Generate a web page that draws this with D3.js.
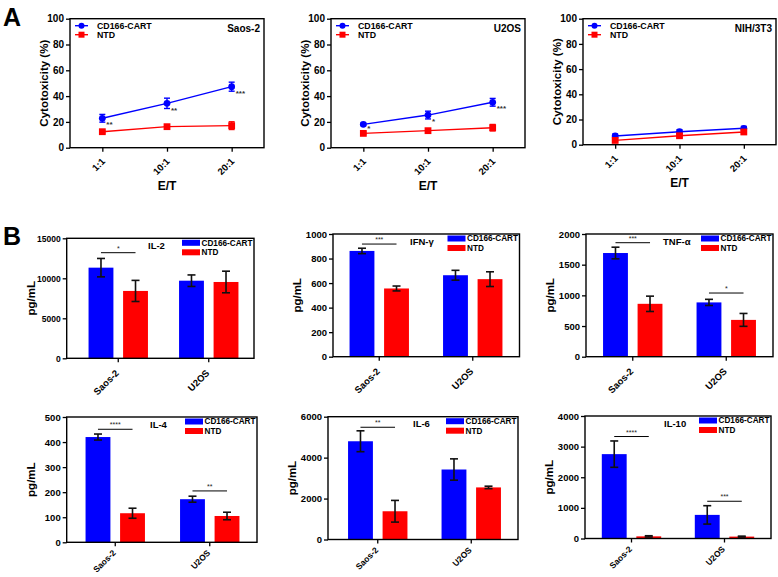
<!DOCTYPE html>
<html>
<head>
<meta charset="utf-8">
<script src="https://cdn.jsdelivr.net/npm/d3@7/dist/d3.min.js"></script>
<style>
  html, body { margin: 0; padding: 0; background: #fff; }
  svg { display: block; font-family: "Liberation Sans", Arial, sans-serif; }
</style>
</head>
<body>
<svg id="chart" width="778" height="577"></svg>
<script>
// ---------------- DATA ----------------
const seriesNames = ["CD166-CART", "NTD"];
const etLabels = ["1:1", "10:1", "20:1"];
const cytoTicks = [0, 20, 40, 60, 80, 100];

// Panel A: cytotoxicity (%)
const saos2Cart = [22.8, 34.4, 47.3];
const saos2CartErr = [3.0, 4.0, 3.5];
const saos2Ntd = [12.4, 16.3, 17.1];
const saos2NtdErr = [1.0, 1.0, 3.0];
const saos2Sig = ["**", "**", "***"];

const u2osCart = [18.1, 25.3, 35.2];
const u2osCartErr = [1.0, 3.0, 3.0];
const u2osNtd = [11.1, 13.2, 15.5];
const u2osNtdErr = [1.0, 1.0, 2.5];
const u2osSig = ["*", "*", "***"];

const nihCart = [6.9, 10.3, 13.0];
const nihCartErr = [1.5, 1.5, 1.5];
const nihNtd = [3.4, 7.1, 10.1];
const nihNtdErr = [1.0, 1.0, 1.5];
const nihSig = ["", "", ""];

// Panel B: cytokines (pg/mL)
const cellLines = ["Saos-2", "U2OS"];

const il2Cart = [11330, 9700];   const il2CartErr = [1150, 720];
const il2Ntd = [8420, 9540];     const il2NtdErr = [1320, 1350];
const il2Ticks = [0, 5000, 10000, 15000];
const il2Sig = [["Saos-2", 13200, "*"]];

const ifnCart = [862, 664];      const ifnCartErr = [22, 40];
const ifnNtd = [556, 632];       const ifnNtdErr = [20, 60];
const ifnTicks = [0, 200, 400, 600, 800, 1000];
const ifnSig = [["Saos-2", 918, "***"]];

const tnfCart = [1690, 885];     const tnfCartErr = [95, 50];
const tnfNtd = [862, 600];       const tnfNtdErr = [125, 105];
const tnfTicks = [0, 500, 1000, 1500, 2000];
const tnfSig = [["Saos-2", 1858, "***"], ["U2OS", 1038, "*"]];

const il4Cart = [420, 172];      const il4CartErr = [12, 12];
const il4Ntd = [116, 105];       const il4NtdErr = [20, 15];
const il4Ticks = [0, 100, 200, 300, 400, 500];
const il4Sig = [["Saos-2", 451, "****"], ["U2OS", 205, "**"]];

const il6Cart = [4800, 3420];    const il6CartErr = [510, 520];
const il6Ntd = [1380, 2545];     const il6NtdErr = [530, 60];
const il6Ticks = [0, 2000, 4000, 6000];
const il6Sig = [["Saos-2", 5484, "**"]];

const il10Cart = [2755, 771];    const il10CartErr = [430, 300];
const il10Ntd = [70, 62];        const il10NtdErr = [20, 15];
const il10Ticks = [0, 1000, 2000, 3000, 4000];
const il10Sig = [["Saos-2", 3330, "****"], ["U2OS", 1216, "***"]];

// ---------------- STYLE / LAYOUT ----------------
const BLUE = "#0000ff", RED = "#ff0000";
const colors = [BLUE, RED];
const svg = d3.select("#chart");
const fmt = d3.format("d");

svg.append("text").attr("x", 3).attr("y", 26).attr("font-size", 25)
  .attr("font-weight", "bold").text("A");
svg.append("text").attr("x", 3).attr("y", 245).attr("font-size", 25)
  .attr("font-weight", "bold").text("B");

function drawFrame(g, x0, x1, yTop, yBot) {
  g.append("rect").attr("x", x0).attr("y", yTop).attr("width", x1 - x0)
    .attr("height", yBot - yTop).attr("fill", "none").attr("stroke", "#000")
    .attr("stroke-width", 1.4);
}

function styleAxis(ax, fs) {
  ax.select(".domain").remove();
  ax.selectAll(".tick line").attr("stroke", "#000").attr("stroke-width", 1.3);
  ax.selectAll(".tick text").attr("font-size", fs).attr("font-weight", "bold")
    .attr("font-family", "Liberation Sans, Arial, sans-serif").attr("fill", "#000");
}

// ---------- Line charts ----------
function lineChart(cfg) {
  const { x0, x1, yTop, yBot, title, cart, cartErr, ntd, ntdErr, sig } = cfg;
  const g = svg.append("g");
  const x = d3.scalePoint().domain(etLabels).range([x0, x1]).padding(0.5);
  const y = d3.scaleLinear().domain([0, 100]).range([yBot, yTop]);

  const yAx = g.append("g").attr("transform", `translate(${x0},0)`)
    .call(d3.axisLeft(y).tickValues(cytoTicks).tickFormat(fmt).tickSize(4).tickPadding(2));
  styleAxis(yAx, 10);

  const xAx = g.append("g").attr("transform", `translate(0,${yBot})`)
    .call(d3.axisBottom(x).tickSize(4).tickFormat(() => ""));
  styleAxis(xAx, 10);
  g.selectAll(null).data(etLabels).join("text")
    .attr("transform", d => `translate(${x(d) + 1},${yBot + 12}) rotate(-45)`)
    .attr("text-anchor", "end").attr("dy", "0.35em")
    .attr("font-size", 9.5).attr("font-weight", "bold").text(d => d);

  drawFrame(g, x0, x1, yTop, yBot);

  g.append("text").attr("x", (x0 + x1) / 2).attr("y", yBot + 42)
    .attr("text-anchor", "middle").attr("font-size", 12).attr("font-weight", "bold").text("E/T");
  g.append("text").attr("transform", `translate(${x0 - 22},${(yTop + yBot) / 2}) rotate(-90)`)
    .attr("text-anchor", "middle").attr("font-size", 11.5).attr("font-weight", "bold")
    .text("Cytotoxicity (%)");
  g.append("text").attr("x", x1 - 4).attr("y", yTop + 13).attr("text-anchor", "end")
    .attr("font-size", 10).attr("font-weight", "bold").text(title);

  const sets = [[cart, cartErr], [ntd, ntdErr]];
  sets.forEach(([vals, errs], si) => {
    const c = colors[si];
    const pts = etLabels.map((d, i) => [x(d), y(vals[i])]);
    g.append("path").attr("d", d3.line()(pts)).attr("fill", "none")
      .attr("stroke", c).attr("stroke-width", 1.4);
    etLabels.forEach((d, i) => {
      const cx = x(d), yh = y(vals[i] + errs[i]), yl = y(vals[i] - errs[i]);
      g.append("line").attr("x1", cx).attr("x2", cx).attr("y1", yh).attr("y2", yl)
        .attr("stroke", c).attr("stroke-width", 1.4);
      [yh, yl].forEach(yy => g.append("line").attr("x1", cx - 3).attr("x2", cx + 3)
        .attr("y1", yy).attr("y2", yy).attr("stroke", c).attr("stroke-width", 1.4));
      if (si === 0) g.append("circle").attr("cx", cx).attr("cy", y(vals[i])).attr("r", 3.4).attr("fill", c);
      else g.append("rect").attr("x", cx - 3.4).attr("y", y(vals[i]) - 3.4)
        .attr("width", 6.8).attr("height", 6.8).attr("fill", c);
    });
  });
  // significance marks
  etLabels.forEach((d, i) => {
    if (!sig[i]) return;
    g.append("text").attr("x", x(d) + 4).attr("y", y(cart[i] - cartErr[i]) + 5)
      .attr("font-size", 8).attr("font-weight", "bold").attr("fill", "#333").text(sig[i]);
  });

  // legend
  seriesNames.forEach((s, si) => {
    const ly = yTop + 7 + si * 9;
    const lx = x0 + 5;
    g.append("line").attr("x1", lx).attr("x2", lx + 13).attr("y1", ly).attr("y2", ly)
      .attr("stroke", colors[si]).attr("stroke-width", 1.4);
    if (si === 0) g.append("circle").attr("cx", lx + 6.5).attr("cy", ly).attr("r", 3).attr("fill", colors[si]);
    else g.append("rect").attr("x", lx + 3.5).attr("y", ly - 3).attr("width", 6).attr("height", 6).attr("fill", colors[si]);
    g.append("text").attr("x", lx + 22).attr("y", ly).attr("dy", "0.33em")
      .attr("font-size", 8.8).attr("font-weight", "bold").text(s);
  });
}

lineChart({ x0: 70, x1: 264, yTop: 18.7, yBot: 147.7, title: "Saos-2",
  cart: saos2Cart, cartErr: saos2CartErr, ntd: saos2Ntd, ntdErr: saos2NtdErr, sig: saos2Sig });
lineChart({ x0: 331, x1: 525, yTop: 18.7, yBot: 147.7, title: "U2OS",
  cart: u2osCart, cartErr: u2osCartErr, ntd: u2osNtd, ntdErr: u2osNtdErr, sig: u2osSig });
lineChart({ x0: 583, x1: 776, yTop: 18.7, yBot: 144.7, title: "NIH/3T3",
  cart: nihCart, cartErr: nihCartErr, ntd: nihNtd, ntdErr: nihNtdErr, sig: nihSig });

// ---------- Bar charts ----------
function barChart(cfg) {
  const { x0, bandStart, x1, yTop, yBot, ticks, label, labelX, cart, cartErr, ntd, ntdErr, sig, tickFs, catFs, catDy } = cfg;
  const g = svg.append("g");
  const x = d3.scaleBand().domain(cellLines).range([bandStart, x1]).padding(0);
  const sub = d3.scaleBand().domain(seriesNames).range([-29.7, 29.7]).paddingInner(0.28);
  const y = d3.scaleLinear().domain([0, d3.max(ticks)]).range([yBot, yTop]);

  const yAx = g.append("g").attr("transform", `translate(${x0},0)`)
    .call(d3.axisLeft(y).tickValues(ticks).tickFormat(fmt).tickSize(4).tickPadding(2));
  styleAxis(yAx, tickFs);

  const xAx = g.append("g").attr("transform", `translate(0,${yBot})`)
    .call(d3.axisBottom(x).tickSize(4).tickFormat(() => ""));
  styleAxis(xAx, 10);
  g.selectAll(null).data(cellLines).join("text")
    .attr("transform", d => `translate(${x(d) + x.bandwidth() / 2 - 1},${yBot + catDy}) rotate(-45)`)
    .attr("text-anchor", "end").attr("dy", "0.35em")
    .attr("font-size", catFs).attr("font-weight", "bold").text(d => d);

  const sets = [[cart, cartErr], [ntd, ntdErr]];
  sets.forEach(([vals, errs], si) => {
    cellLines.forEach((cl, i) => {
      const cx = x(cl) + x.bandwidth() / 2;
      const bx = cx + sub(seriesNames[si]);
      g.append("rect").attr("x", bx).attr("y", y(vals[i])).attr("width", sub.bandwidth())
        .attr("height", yBot - y(vals[i])).attr("fill", colors[si]);
      const mx = bx + sub.bandwidth() / 2;
      const yh = y(vals[i] + errs[i]), yl = y(Math.max(0, vals[i] - errs[i]));
      g.append("line").attr("x1", mx).attr("x2", mx).attr("y1", yh).attr("y2", yl)
        .attr("stroke", "#111").attr("stroke-width", 1.6);
      [yh, yl].forEach(yy => g.append("line").attr("x1", mx - 4).attr("x2", mx + 4)
        .attr("y1", yy).attr("y2", yy).attr("stroke", "#111").attr("stroke-width", 1.6));
    });
  });

  drawFrame(g, x0, x1, yTop, yBot);

  sig.forEach(([cl, lvl, txt]) => {
    const cx = x(cl) + x.bandwidth() / 2;
    const xa = cx + sub(seriesNames[0]) + sub.bandwidth() / 2;
    const xb = cx + sub(seriesNames[1]) + sub.bandwidth() / 2;
    g.append("line").attr("x1", xa).attr("x2", xb).attr("y1", y(lvl)).attr("y2", y(lvl))
      .attr("stroke", "#000").attr("stroke-width", 1);
    g.append("text").attr("x", (xa + xb) / 2).attr("y", y(lvl) - 2).attr("text-anchor", "middle")
      .attr("font-size", 7).attr("fill", "#222").text(txt);
  });

  g.append("text").attr("x", labelX).attr("y", yTop + 10.5)
    .attr("font-size", 9.5).attr("font-weight", "bold").text(label);

  g.append("text").attr("transform", `translate(${x0 - 32},${(yTop + yBot) / 2}) rotate(-90)`)
    .attr("text-anchor", "middle").attr("font-size", 11.5).attr("font-weight", "bold").text("pg/mL");

  seriesNames.forEach((s, si) => {
    const ly = yTop + 4.5 + si * 9.5;
    g.append("rect").attr("x", x1 - 72).attr("y", ly - 3).attr("width", 18).attr("height", 6)
      .attr("fill", colors[si]);
    g.append("text").attr("x", x1 - 52.5).attr("y", ly).attr("dy", "0.35em")
      .attr("font-size", 8.2).attr("font-weight", "bold").text(s);
  });
}

barChart({ x0: 66.7, bandStart: 73, x1: 254, yTop: 238.3, yBot: 358.3, ticks: il2Ticks, label: "IL-2", labelX: 148,
  cart: il2Cart, cartErr: il2CartErr, ntd: il2Ntd, ntdErr: il2NtdErr, sig: il2Sig, tickFs: 8.5, catFs: 9.5, catDy: 13 });
barChart({ x0: 333, bandStart: 332.5, x1: 519.5, yTop: 234, yBot: 356.7, ticks: ifnTicks, label: "IFN-γ", labelX: 410,
  cart: ifnCart, cartErr: ifnCartErr, ntd: ifnNtd, ntdErr: ifnNtdErr, sig: ifnSig, tickFs: 9.5, catFs: 9.5, catDy: 13 });
barChart({ x0: 586, bandStart: 586, x1: 773, yTop: 234, yBot: 356.7, ticks: tnfTicks, label: "TNF-α", labelX: 663,
  cart: tnfCart, cartErr: tnfCartErr, ntd: tnfNtd, ntdErr: tnfNtdErr, sig: tnfSig, tickFs: 9.5, catFs: 9.5, catDy: 13 });
barChart({ x0: 66.7, bandStart: 68, x1: 257, yTop: 417, yBot: 542.3, ticks: il4Ticks, label: "IL-4", labelX: 150,
  cart: il4Cart, cartErr: il4CartErr, ntd: il4Ntd, ntdErr: il4NtdErr, sig: il4Sig, tickFs: 9.5, catFs: 8.5, catDy: 9 });
barChart({ x0: 328, bandStart: 331, x1: 518, yTop: 416.7, yBot: 539.5, ticks: il6Ticks, label: "IL-6", labelX: 413,
  cart: il6Cart, cartErr: il6CartErr, ntd: il6Ntd, ntdErr: il6NtdErr, sig: il6Sig, tickFs: 9.5, catFs: 8.5, catDy: 9 });
barChart({ x0: 585, bandStart: 585, x1: 771, yTop: 416, yBot: 538.5, ticks: il10Ticks, label: "IL-10", labelX: 664,
  cart: il10Cart, cartErr: il10CartErr, ntd: il10Ntd, ntdErr: il10NtdErr, sig: il10Sig, tickFs: 9.5, catFs: 8.5, catDy: 9 });
</script>
</body>
</html>
